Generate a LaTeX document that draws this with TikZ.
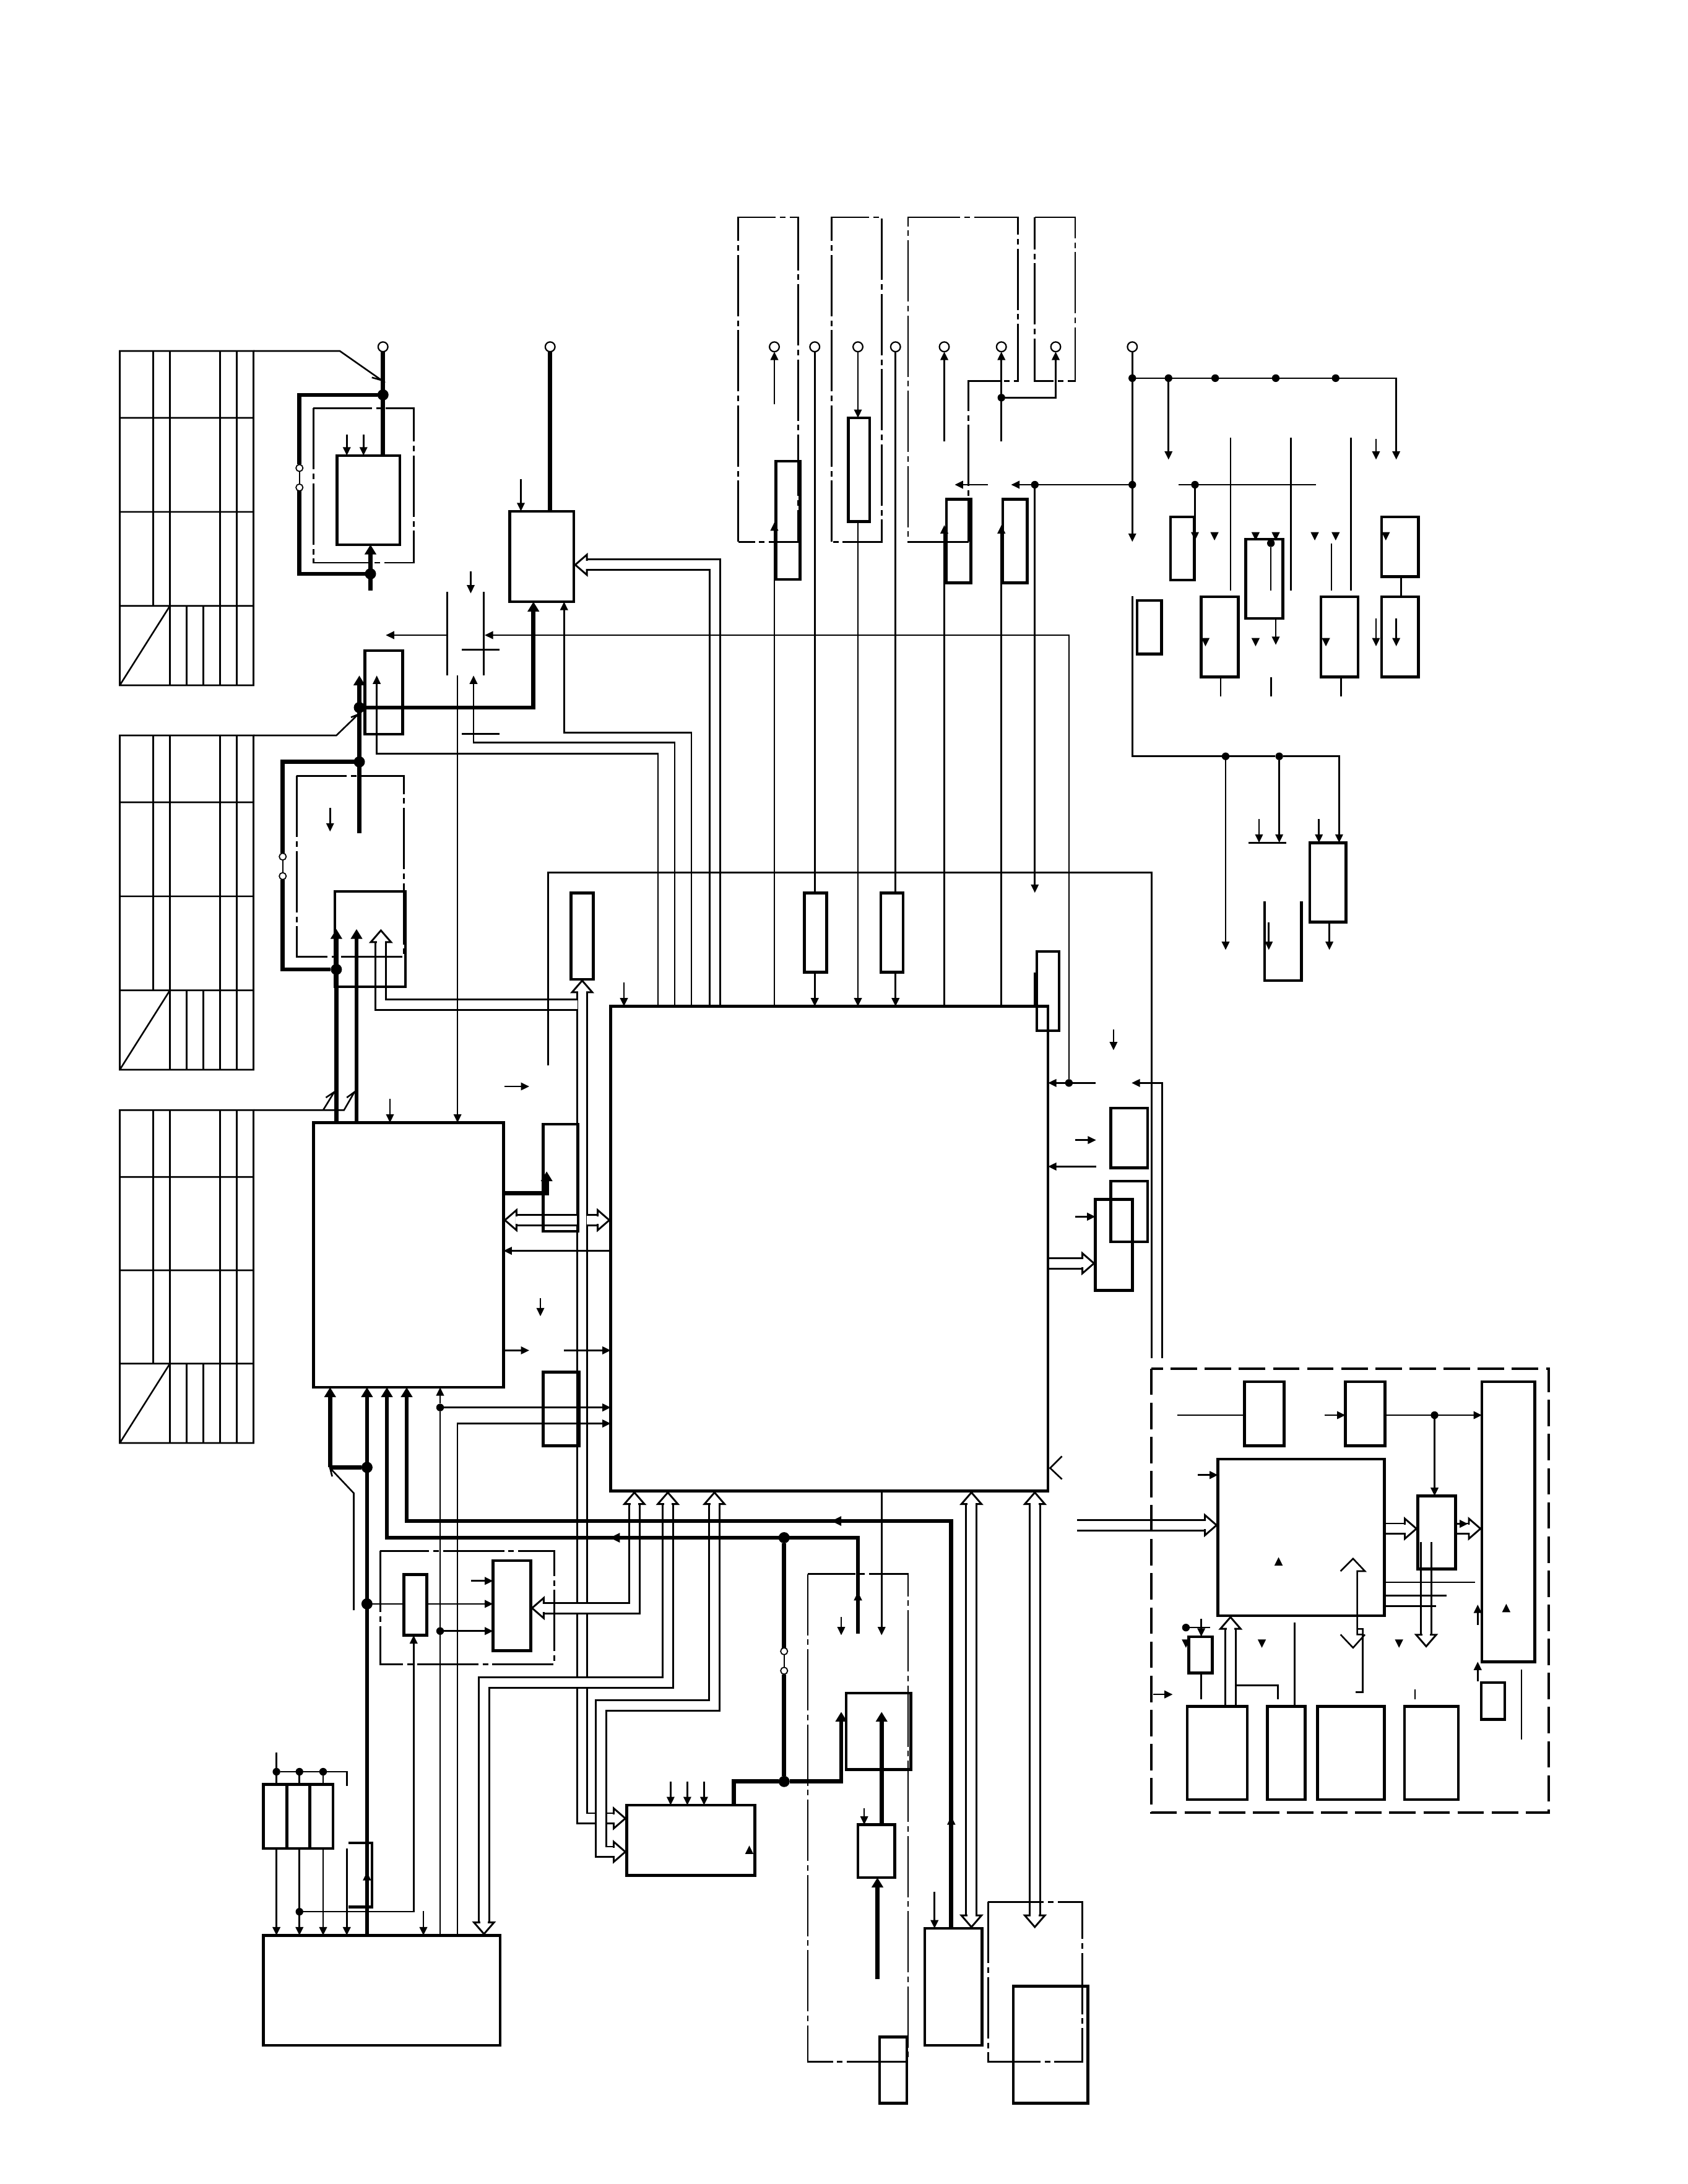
\documentclass[tikz,border=0pt]{standalone}
\usetikzlibrary{arrows.meta,backgrounds}

\tikzset{
  box/.style={draw,line width=2pt,inner sep=0pt,outer sep=0pt},
  sig/.style={line width=1.15pt,-{Triangle[length=6pt,width=5.5pt]}},
  wire/.style={line width=1.15pt},
  pwr/.style={line width=3pt},
  pwra/.style={line width=3pt,-{Triangle[length=7pt,width=8pt]}},
  dd/.style={line width=1.3pt,dash pattern=on 44pt off 3pt on 4pt off 3pt},
  ddb/.style={line width=1.8pt,dash pattern=on 19pt off 5.5pt},
  dot/.style={circle,fill,inner sep=0pt,minimum size=5.5pt,outer sep=0pt},
  pdot/.style={circle,fill,inner sep=0pt,minimum size=8pt,outer sep=0pt},
  term/.style={circle,draw,fill=white,line width=1pt,inner sep=0pt,minimum size=7pt,outer sep=0pt},
  sw/.style={circle,draw,fill=white,line width=.8pt,inner sep=0pt,minimum size=5pt,outer sep=0pt},
  bus/.style={double,double distance=6.2pt,line width=1.3pt,line join=miter,
    -{Triangle[open,fill=white,length=10pt,width=17pt]},
    postaction={draw=white,line width=5.6pt,double=none,-,shorten >=8.5pt}},
  bbus/.style={double,double distance=6.2pt,line width=1.3pt,line join=miter,
    {Triangle[open,fill=white,length=10pt,width=17pt]}-{Triangle[open,fill=white,length=10pt,width=17pt]},
    postaction={draw=white,line width=5.6pt,double=none,-,shorten >=8.5pt,shorten <=8.5pt}},
}
% block from its corners
\newcommand{\blk}[5]{\node[box,minimum width={(#4-#2)*1pt},minimum height={(#5-#3)*1pt}] (#1) at ({(#2+#4)/2},{(#3+#5)/2}) {};}
% loose arrow heads
\newcommand{\tipdn}[2]{\fill (#1-3,#2-3) -- (#1+3,#2-3) -- (#1,#2+3) -- cycle;}
\newcommand{\tipup}[2]{\fill (#1-3,#2+3) -- (#1+3,#2+3) -- (#1,#2-3) -- cycle;}

\begin{document}
\begin{tikzpicture}[x=1pt,y=-1pt]
\useasboundingbox (0,0) rectangle (1212,1568);
\begin{scope}[on background layer]
\fill[white] (0,0) rectangle (1212,1568);
\end{scope}

% cell tables on the left
\draw[line width=1.15pt] (86,252) rectangle (182,492) (86,300) -- (182,300) (86,367.5) -- (182,367.5) (86,435) -- (182,435)
  (110,252) -- (110,435) (122,252) -- (122,492) (158,252) -- (158,492) (170,252) -- (170,492)
  (134,435) -- (134,492) (146,435) -- (146,492) (86,492) -- (122,435);
\draw[line width=1.15pt] (86,528) rectangle (182,768) (86,576) -- (182,576) (86,643.5) -- (182,643.5) (86,711) -- (182,711)
  (110,528) -- (110,711) (122,528) -- (122,768) (158,528) -- (158,768) (170,528) -- (170,768)
  (134,711) -- (134,768) (146,711) -- (146,768) (86,768) -- (122,711);
\draw[line width=1.15pt] (86,797) rectangle (182,1036) (86,845) -- (182,845) (86,912) -- (182,912) (86,979) -- (182,979)
  (110,797) -- (110,979) (122,797) -- (122,1036) (158,797) -- (158,1036) (170,797) -- (170,1036)
  (134,979) -- (134,1036) (146,979) -- (146,1036) (86,1036) -- (122,979);
\draw[wire] (182,252) -- (244,252) -- (274,273) -- (267,271);
\draw[wire] (182,528) -- (241.5,528) -- (257,513) -- (252,515);
\draw[wire] (182,797) -- (247,797) -- (254.5,784) -- (249,788);
\draw[wire] (232,797) -- (240,784) -- (234,788);

% dash-dot frames
\draw[dd] (225,293) rectangle (297,404);
\draw[dd] (213,557) rectangle (290,687);
\draw[dd] (530,389) -- (530,156) -- (573,156) -- (573,389) -- cycle;
\draw[dd] (597,389) -- (597,156) -- (633,156) -- (633,389) -- cycle;
\draw[dd] (695.5,389) -- (652,389) -- (652,156) -- (731,156) -- (731,273.5) -- (695.5,273.5) -- cycle;
\draw[dd] (743,156) -- (772,156) -- (772,273.5) -- (743,273.5) -- cycle;
\draw[dd] (273,1113.5) rectangle (398,1195);
\draw[dd] (580,1130) rectangle (652,1480);
\draw[dd] (709.5,1365.5) rectangle (777,1480);
\draw[ddb] (826.5,982.5) rectangle (1112,1301.5);

% blocks
\blk{chip}{438.5}{722.5}{752.5}{1070.5}
\blk{drv}{225}{806}{361.5}{996}
\blk{psu}{189}{1389.5}{359}{1468.5}
\blk{ctlA}{242}{327}{287}{391}
\blk{ctlB}{366}{367}{412}{432}
\blk{ctlC}{262}{467}{289}{527}
\blk{ctlD}{240.5}{640}{291}{708.5}
\blk{regE}{410}{641}{426}{703}
\blk{regF}{390}{807}{415}{884}
\blk{regG}{390}{985}{416}{1038}
\blk{gateQ}{290}{1130.5}{306.5}{1174}
\blk{gateR}{354}{1120.5}{381}{1185}
\blk{fuse1}{189}{1281}{206}{1327}
\blk{fuse2}{206}{1281}{222.5}{1327}
\blk{fuse3}{222.5}{1281}{239}{1327}
\blk{conv}{450}{1296}{542}{1346.5}
\blk{drvL}{607.5}{1215.5}{654}{1270.5}
\blk{drvM}{616}{1310}{642.5}{1348}
\blk{drvN}{631.5}{1462.5}{651}{1510}
\blk{memH}{664}{1384.5}{705}{1468.5}
\blk{memJ}{727.5}{1426}{781}{1510}
\blk{resV}{557}{331}{574.5}{416}
\blk{resU}{609}{300}{624.5}{374.5}
\blk{resX}{679.5}{358.5}{697}{418.5}
\blk{resY}{720}{358.5}{737.5}{418.5}
\blk{res1}{577.5}{641}{593.5}{698}
\blk{res2}{632.5}{641}{648.5}{698}
\blk{res3}{744.5}{683}{760.5}{740}
\blk{ioa}{840.5}{371}{857.5}{416.5}
\blk{iob}{816.5}{431}{834}{469.5}
\blk{ioc}{862.5}{428.5}{889}{486}
\blk{iod}{894.5}{387}{921}{444}
\blk{ioe}{948.5}{428.5}{975}{486}
\blk{iof}{992}{371}{1018.5}{414}
\blk{iog}{992}{428.5}{1018.5}{486}
\blk{ioh}{940.5}{605}{966.5}{662}
\blk{sen1}{797.5}{795.5}{824}{838.5}
\blk{sen2}{797.5}{848}{824}{891.5}
\blk{sen3}{786.5}{861}{813}{926.5}
\blk{dspA}{874.5}{1047.5}{994}{1160}
\blk{dspB}{893.5}{992}{922}{1038}
\blk{dspC}{966}{992}{994.5}{1038}
\blk{dspD}{1064}{992}{1102}{1193}
\blk{dspE}{1018}{1074}{1045}{1126.5}
\blk{dspF}{853.5}{1175}{870.5}{1201}
\blk{dspG}{1063.5}{1208}{1080.5}{1234.5}
\blk{romA}{852.5}{1225}{895.5}{1292}
\blk{romB}{910}{1225}{937}{1292}
\blk{romC}{946}{1225}{994}{1292}
\blk{romD}{1008.5}{1225}{1047}{1292}
\draw[line width=2pt] (250,1323) -- (267,1323) -- (267,1369) -- (250,1369);
\draw[line width=2pt] (908,647) -- (908,704) -- (934.5,704) -- (934.5,647);

% terminals and junctions
\node[term] (t1) at (275,249) {};
\node[term] (t2) at (395,249) {};
\node[term] (t3) at (556,249) {};
\node[term] (t4) at (585,249) {};
\node[term] (t5) at (616,249) {};
\node[term] (t6) at (643,249) {};
\node[term] (t7) at (678,249) {};
\node[term] (t8) at (719,249) {};
\node[term] (t9) at (758,249) {};
\node[term] (t10) at (813,249) {};
\node[pdot] (j1) at (275,283.5) {};
\node[pdot] (j2) at (266,412) {};
\node[pdot] (j3) at (258,508) {};
\node[pdot] (j4) at (258,547) {};
\node[pdot] (j5) at (241.5,696) {};
\node[pdot] (j6) at (263.5,1053.5) {};
\node[pdot] (j7) at (263.5,1151.5) {};
\node[pdot] (j8) at (563,1104) {};
\node[pdot] (j9) at (563,1279) {};
\node[dot] (k1) at (316,1010.5) {};
\node[dot] (k2) at (316,1171) {};
\node[dot] (k3) at (198.5,1272) {};
\node[dot] (k4) at (215,1272) {};
\node[dot] (k5) at (232,1272) {};
\node[dot] (k6) at (215,1372.5) {};
\node[dot] (k7) at (719,285.5) {};
\node[dot] (k8) at (743,348) {};
\node[dot] (k9) at (813,348) {};
\node[dot] (k10) at (813,271.5) {};
\node[dot] (k11) at (839,271.5) {};
\node[dot] (k12) at (872.5,271.5) {};
\node[dot] (k13) at (916,271.5) {};
\node[dot] (k14) at (959,271.5) {};
\node[dot] (k15) at (858,348) {};
\node[dot] (k16) at (912.5,390) {};
\node[dot] (k17) at (880,543) {};
\node[dot] (k18) at (918.5,543) {};
\node[dot] (k19) at (767.5,777.5) {};
\node[dot] (k20) at (1030,1016) {};
\node[dot] (k21) at (851.5,1168.5) {};
\node[sw] (s1) at (215,336) {};
\node[sw] (s2) at (215,350) {};
\node[sw] (s3) at (203,615) {};
\node[sw] (s4) at (203,629) {};
\node[sw] (s5) at (563,1185.5) {};
\node[sw] (s6) at (563,1199.5) {};
\draw[line width=.8pt] (s1) -- (s2) (s3) -- (s4) (s5) -- (s6);

% wide buses stay under everything else
\begin{scope}[on background layer]
\draw[bus] (513.5,0 |- chip.north) -- (513.5,405.5) -- (ctlB.east |- 0,405.5);
\draw[bbus] (conv.west |- 0,1305.5) -- (418,1305.5) -- (418,703);
\draw[bus] (414.5,721.5) -- (273.5,721.5) -- (273.5,667);
\draw[bus] (414.5,876) -- (drv.east |- 0,876);
\draw[bus] (421.5,876) -- (chip.west |- 0,876);
\draw[bbus] (gateR.east |- 0,1154.5) -- (455.5,1154.5) -- (455.5,0 |- chip.south);
\draw[bbus] (347.5,0 |- psu.north) -- (347.5,1208) -- (479.5,1208) -- (479.5,0 |- chip.south);
\draw[bbus] (conv.west |- 0,1329.5) -- (431.5,1329.5) -- (431.5,1224.5) -- (513,1224.5) -- (513,0 |- chip.south);
\draw[bbus] (697.5,0 |- chip.south) -- (697.5,0 |- memH.north);
\draw[bbus] (743,0 |- chip.south) -- (743,1384.5);
\draw[bus] (chip.east |- 0,907) -- (sen3.west |- 0,907);
\draw[bus] (773.5,1095) -- (dspA.west |- 0,1095);
\draw[bus] (dspA.east |- 0,1097.5) -- (dspE.west |- 0,1097.5);
\draw[bus] (dspE.east |- 0,1097.5) -- (dspD.west |- 0,1097.5);
\draw[bus] (1024,1107) -- (1024,1183);
\draw[bus] (883.5,0 |- romA.north) -- (883.5,0 |- dspA.south);
\end{scope}

% battery stage
\draw[pwr] (t1) -- (275,0 |- ctlA.north);
\draw[pwr] (j1) -- (215,283.5) -- (s1);
\draw[pwr] (s2) -- (215,412) -- (j2);
\draw[pwra] (266,424) -- (266,0 |- ctlA.south);
\draw[sig] (249,312) -- (249,0 |- ctlA.north);
\draw[sig] (261,312) -- (261,0 |- ctlA.north);
\draw[pwr] (t2) -- (395,0 |- ctlB.north);
\draw[sig] (374,344) -- (374,0 |- ctlB.north);
\draw[pwra] (j3) -- (383,508) -- (383,0 |- ctlB.south);
\draw[sig] (496.5,0 |- chip.north) -- (496.5,526) -- (405,526) -- (405,0 |- ctlB.south);
\draw[sig] (484.5,0 |- chip.north) -- (484.5,533) -- (340,533) -- (340,485);
\draw[sig] (472.5,0 |- chip.north) -- (472.5,541) -- (270.5,541) -- (270.5,485);
\draw[line width=1.4pt] (321,425) -- (321,485) (347.5,425) -- (347.5,485) (331.5,466.5) -- (358.5,466.5) (331.5,527) -- (358.5,527);
\draw[sig] (321,456) -- (277,456);
\draw[sig] (k19) -- (767.5,456) -- (348,456);
\draw[sig] (338,410) -- (338,426);
\draw[sig] (328.5,485) -- (328.5,0 |- drv.north);
\draw[pwra] (258,598) -- (258,485);
\draw[pwr] (j4) -- (203,547) -- (s3);
\draw[pwr] (s4) -- (203,696) -- (j5);
\draw[sig] (237,580) -- (237,597);
\draw[pwra] (241.5,0 |- drv.north) -- (241.5,667);
\draw[pwra] (256,0 |- drv.north) -- (256,667);
\draw[sig] (280,789) -- (280,0 |- drv.north);
\draw[wire] (393.5,765) -- (393.5,626.5) -- (827,626.5) -- (827,975);
\draw[sig] (362,780) -- (380,780);
\draw[sig] (448,705.5) -- (448,0 |- chip.north);

% driver to chip
\draw[pwra] (drv.east |- 0,856.5) -- (392.5,856.5) -- (392.5,841);
\draw[sig] (chip.west |- 0,898) -- (drv.east |- 0,898);
\draw[sig] (388,932) -- (388,945);
\draw[sig] (drv.east |- 0,969.5) -- (380,969.5);
\draw[sig] (405,969.5) -- (chip.west |- 0,969.5);
\draw[sig] (k1) -- (chip.west |- k1);
\draw[sig] (328.5,0 |- psu.north) -- (328.5,1022) -- (chip.west |- 0,1022);
\draw[sig] (k1) -- (316,0 |- drv.south);
\draw[wire] (316,0 |- psu.north) -- (k1);
\draw[pwra] (237,1053.5) -- (237,0 |- drv.south);
\draw[pwr] (237,1053.5) -- (j6);
\draw[pwra] (263.5,0 |- psu.north) -- (263.5,0 |- drv.south);
\draw[pwra] (616,1173) -- (616,1104) -- (277.8,1104) -- (277.8,0 |- drv.south);
\draw[pwra] (683,0 |- memH.north) -- (683,1092) -- (292,1092) -- (292,0 |- drv.south);
\draw[wire] (254,1156) -- (254,1072) -- (237,1054) -- (238.5,1060);
\tipup{616}{1146}
\tipup{683}{1307}
\tipup{263.5}{1347}
\fill (438,1104) -- (445,1100.5) -- (445,1107.5) -- cycle;
\fill (597,1092) -- (604,1088.5) -- (604,1095.5) -- cycle;

% gate frame
\draw[wire] (j7) -- (gateQ.west |- j7);
\draw[sig] (gateQ.east |- j7) -- (gateR.west |- j7);
\draw[sig] (k2) -- (gateR.west |- k2);
\draw[sig] (338,1135) -- (gateR.west |- 0,1135);
\draw[sig] (k6) -- (297,1372.5) -- (297,0 |- gateQ.south);

% supply fuses
\draw[wire] (198.5,1258) -- (198.5,0 |- fuse1.north);
\draw[wire] (k3) -- (k5) -- (249,1272) -- (249,1282);
\draw[wire] (k4) -- (215,0 |- fuse2.north);
\draw[wire] (k5) -- (232,0 |- fuse3.north);
\draw[sig] (198.5,0 |- fuse1.south) -- (198.5,0 |- psu.north);
\draw[sig] (215,0 |- fuse2.south) -- (215,0 |- psu.north);
\draw[sig] (232,0 |- fuse3.south) -- (232,0 |- psu.north);
\draw[sig] (249,1327) -- (249,0 |- psu.north);
\draw[sig] (304,1372) -- (304,0 |- psu.north);

% converter and its stage
\draw[sig] (481.5,1279) -- (481.5,0 |- conv.north);
\draw[sig] (493.5,1279) -- (493.5,0 |- conv.north);
\draw[sig] (505.5,1279) -- (505.5,0 |- conv.north);
\tipup{538}{1328}
\draw[pwr] (j8) -- (s5);
\draw[pwr] (s6) -- (j9);
\draw[pwr] (527,0 |- conv.north) -- (527,1279) -- (j9);
\draw[pwra] (j9) -- (604,1279) -- (604,1229);
\draw[pwra] (633,0 |- drvM.north) -- (633,1229);
\draw[pwra] (630,1421) -- (630,0 |- drvM.south);
\draw[sig] (620.5,1298) -- (620.5,0 |- drvM.north);
\draw[sig] (604,1161) -- (604,1174);
\draw[sig] (633,0 |- chip.south) -- (633,1174);
\draw[sig] (671,1358) -- (671,0 |- memH.north);

% top pins
\draw[sig] (556,0 |- chip.north) -- (556,375);
\draw[sig] (556,290) -- (t3);
\draw[wire] (t4) -- (585,0 |- res1.north);
\draw[sig] (585,0 |- res1.south) -- (585,0 |- chip.north);
\draw[sig] (t5) -- (616,0 |- resU.north);
\draw[sig] (616,0 |- resU.south) -- (616,0 |- chip.north);
\draw[wire] (t6) -- (643,0 |- res2.north);
\draw[sig] (643,0 |- res2.south) -- (643,0 |- chip.north);
\draw[sig] (678,317) -- (t7);
\draw[sig] (678,0 |- chip.north) -- (678,377);
\draw[sig] (719,317) -- (t8);
\draw[sig] (k7) -- (758,285.5) -- (t9);
\draw[sig] (719,0 |- chip.north) -- (719,377);
\draw[sig] (k9) -- (726,348);
\draw[sig] (709.5,348) -- (685.5,348);
\draw[sig] (k8) -- (743,641);
\draw[wire] (743,0 |- chip.north) -- (743,698);

% output rails
\draw[sig] (t10) -- (813,389);
\draw[sig] (k10) -- (1002.5,271.5) -- (1002.5,330);
\draw[sig] (k11) -- (839,330);
\draw[sig] (988,315) -- (988,330);
\draw[wire] (846,348) -- (945,348);
\draw[sig] (k15) -- (858,388);
\draw[wire] (883.5,314) -- (883.5,424) (927,314) -- (927,424) (970,314) -- (970,424);
\draw[wire] (k16) -- (912.5,424);
\draw[wire] (956,390) -- (956,424);
\draw[wire] (876.5,0 |- ioc.south) -- (876.5,500);
\draw[line width=1.4pt] (912.5,486) -- (912.5,500);
\draw[wire] (963,0 |- ioe.south) -- (963,500);
\draw[wire] (1006,0 |- iof.south) -- (1006,0 |- iog.north);
\draw[sig] (916,0 |- iod.south) -- (916,463);
\draw[sig] (988,444) -- (988,464);
\draw[sig] (1002.5,444) -- (1002.5,464);
\tipdn{872}{385}
\tipdn{901.5}{385}
\tipdn{916}{385}
\tipdn{944}{385}
\tipdn{959}{385}
\tipdn{995}{385}
\tipdn{865.5}{461}
\tipdn{901.5}{461}
\tipdn{952}{461}
\draw[wire] (813,428) -- (813,543) -- (k17) -- (k18);
\draw[sig] (k18) -- (961.5,543) -- (961.5,0 |- ioh.north);
\draw[sig] (k17) -- (880,682);
\draw[sig] (k18) -- (918.5,605);
\draw[line width=1.4pt] (896.5,605) -- (923.5,605);
\draw[sig] (904,588) -- (904,605);
\draw[sig] (947,588) -- (947,0 |- ioh.north);
\draw[sig] (954.5,0 |- ioh.south) -- (954.5,682);
\draw[sig] (911,662) -- (911,682);

% chip right side
\draw[sig] (786.5,777.5) -- (chip.east |- 0,777.5);
\draw[sig] (834.5,975) -- (834.5,777.5) -- (812.5,777.5);
\draw[sig] (799.5,739) -- (799.5,754);
\draw[sig] (772,818.5) -- (787,818.5);
\draw[sig] (787,837.5) -- (chip.east |- 0,837.5);
\draw[sig] (772,873.5) -- (sen3.west |- 0,873.5);
\draw[wire] (762.5,1045.5) -- (754,1054) -- (762.5,1062);

% display board
\draw[wire] (845.5,1016) -- (dspB.west |- 0,1016);
\draw[sig] (951,1016) -- (dspC.west |- 0,1016);
\draw[sig] (dspC.east |- k20) -- (dspD.west |- k20);
\draw[sig] (k20) -- (1030,0 |- dspE.north);
\draw[sig] (860,1059) -- (dspA.west |- 0,1059);
\tipup{918}{1121}
\tipup{1081.5}{1154.5}
\draw[sig] (1045,1094) -- (1054,1094);
\draw[wire] (dspA.east |- 0,1136) -- (1059,1136);
\draw[wire] (dspA.east |- 0,1145.5) -- (1038.5,1145.5);
\draw[wire] (dspA.east |- 0,1153) -- (1031,1153);
\draw[wire] (962.5,1128) -- (971.5,1119) -- (980,1128) -- (974.5,1128) -- (974.5,1173.5) -- (978.5,1173.5) -- (978.5,1169.5) -- (974.5,1169.5);
\draw[wire] (962.5,1173.5) -- (971.5,1183) -- (980,1173.5);
\draw[wire] (978.5,1173.5) -- (978.5,1215) -- (973.5,1215);
\draw[wire] (887,1210) -- (917.5,1210) -- (917.5,1220);
\draw[wire] (929.5,1165) -- (929.5,0 |- romB.north);
\draw[wire] (1016,1213) -- (1016,1220);
\draw[wire] (862.5,0 |- dspF.south) -- (862.5,1220);
\draw[sig] (862.5,1162) -- (862.5,0 |- dspF.north);
\draw[wire] (k21) -- (869,1168.5);
\tipdn{851.5}{1180}
\tipdn{906}{1180}
\tipdn{1004.5}{1180}
\draw[sig] (1061,1207) -- (1061,1193);
\draw[sig] (1061,1166.5) -- (1061,1152);
\draw[wire] (1092.5,1198.5) -- (1092.5,1249);
\draw[sig] (828,1216.5) -- (842,1216.5);
\end{tikzpicture}
\end{document}
